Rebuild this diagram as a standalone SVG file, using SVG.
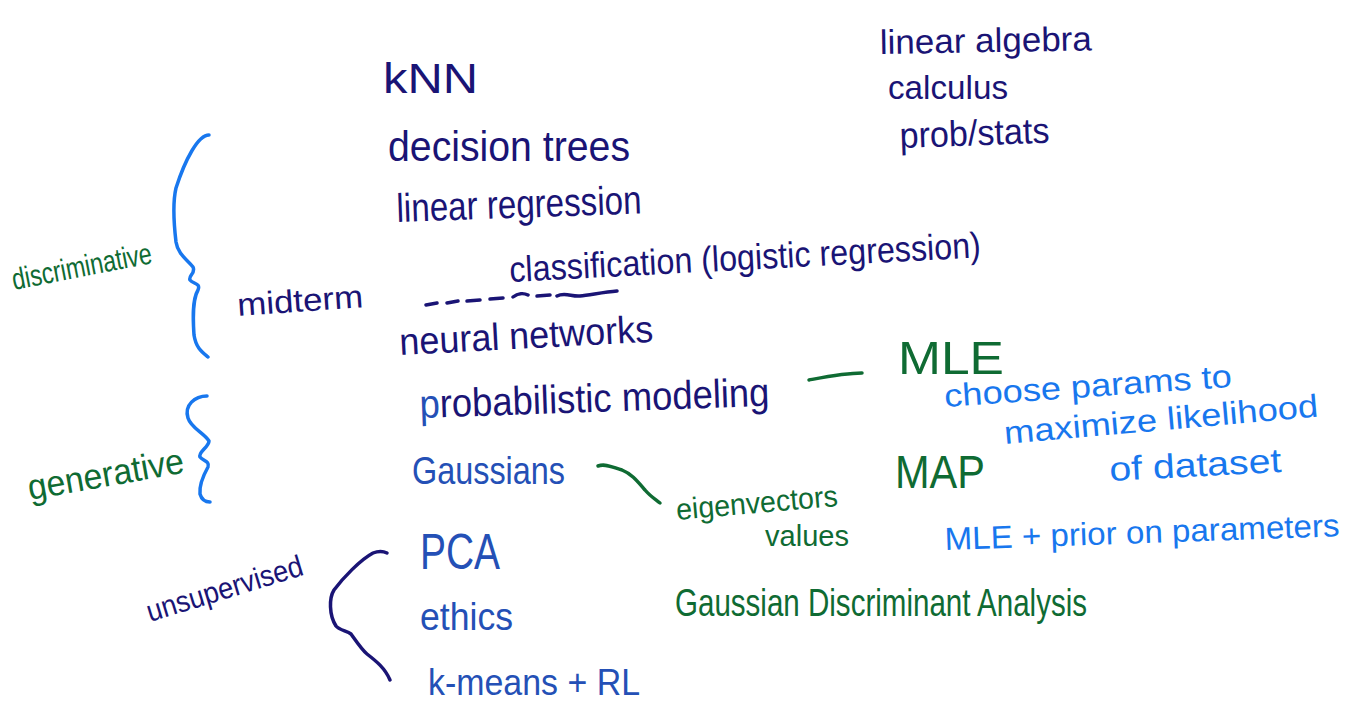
<svg xmlns="http://www.w3.org/2000/svg" width="1356" height="705" viewBox="0 0 1356 705">
<style>
text{font-family:"Liberation Sans","DejaVu Sans",sans-serif;}
.navy{fill:#1a1475;}
.mid{fill:#2450b6;}
.bright{fill:#1877ee;}
.green{fill:#0f6b33;}
.stroke{fill:none;stroke-linecap:round;stroke-linejoin:round;}
.sb{stroke:#1877ee;stroke-width:3.5;}
.sn{stroke:#1a1475;stroke-width:3.5;}
.sg{stroke:#0f6b33;stroke-width:3.5;}
</style>
<rect width="1356" height="705" fill="#ffffff"/>

<g id="connectors">
  <path id="brace-discriminative" class="stroke sb" d="M209,135 C198,135 185,160 176,188 C172,205 174,225 176,242 C178,255 188,260 193,267 C196,273 188,276 190,280 C193,284 201,283 198,290 C192,300 193,320 194,335 C196,348 202,352 208,357"/>
  <path id="brace-generative" class="stroke sb" d="M207,396 C195,396 184,405 188,418 C191,428 204,433 209,441 C209,447 198,452 200,457 C203,461 210,461 208,467 C203,476 199,485 200,494 C202,501 206,502 210,502"/>
  <path id="brace-unsupervised" class="stroke sn" d="M387,553 C383,551 378,551 373,553 C360,560 343,578 334,590 C329,598 329,615 336,626 C339,630 347,631 351,634 C356,641 362,650 367,654 C376,661 385,668 390,680"/>
  <path id="dashes" class="stroke sn" stroke-width="3" d="M426,305 L437,303 M447,303 L458,301 M467,301 L480,300 M490,299 L503,298 M513,297 C518,293 524,293 528,295 M537,296 L550,295 M557,296 C565,292 572,297 580,296 C590,295 604,292 617,291"/>
  <path id="link-mle" class="stroke sg" d="M809,380 C825,377 845,373 862,373"/>
  <path id="link-eigen" class="stroke sg" d="M598,466 C606,463 614,468 622,470 C632,474 638,482 645,490 C650,496 655,499 660,503"/>
</g>

<g id="knn"><text class="navy" x="383" y="93" font-size="42" textLength="95" lengthAdjust="spacingAndGlyphs">kNN</text></g>
<g id="decision-trees"><text class="navy" x="388" y="161" font-size="42" textLength="242" lengthAdjust="spacingAndGlyphs">decision trees</text></g>
<g id="linear-regression"><text class="navy" x="397" y="222" font-size="40" textLength="245" lengthAdjust="spacingAndGlyphs" transform="rotate(-2 397 222)">linear regression</text></g>
<g id="classification"><text class="navy" x="510" y="282" font-size="36" textLength="472" lengthAdjust="spacingAndGlyphs" transform="rotate(-3 510 282)">classification (logistic regression)</text></g>
<g id="midterm"><text class="navy" x="238" y="316" font-size="32" textLength="126" lengthAdjust="spacingAndGlyphs" transform="rotate(-4 238 316)">midterm</text></g>
<g id="discriminative"><text class="green" x="14" y="290" font-size="30" textLength="142" lengthAdjust="spacingAndGlyphs" transform="rotate(-11 14 290)">discriminative</text></g>
<g id="neural-networks"><text class="navy" x="400" y="355" font-size="38" textLength="254" lengthAdjust="spacingAndGlyphs" transform="rotate(-3 400 355)">neural networks</text></g>
<g id="probabilistic-modeling"><text class="navy" x="420" y="418" font-size="40" textLength="350" lengthAdjust="spacingAndGlyphs" transform="rotate(-2 420 418)"><tspan class="mid">p</tspan>robabilistic modeling</text></g>
<g id="mle"><text class="green" x="898" y="374" font-size="46" textLength="106" lengthAdjust="spacingAndGlyphs">MLE</text></g>
<g id="mle-note">
  <text class="bright" x="945" y="407" font-size="32" textLength="288" lengthAdjust="spacingAndGlyphs" transform="rotate(-4 945 407)">choose params to</text>
  <text class="bright" x="1005" y="444" font-size="32" textLength="315" lengthAdjust="spacingAndGlyphs" transform="rotate(-5 1005 444)">maximize likelihood</text>
  <text class="bright" x="1110" y="481" font-size="34" textLength="172" lengthAdjust="spacingAndGlyphs" transform="rotate(-3 1110 481)">of dataset</text>
</g>
<g id="map"><text class="green" x="895" y="488" font-size="46" textLength="90" lengthAdjust="spacingAndGlyphs">MAP</text></g>
<g id="map-note"><text class="bright" x="945" y="550" font-size="32" textLength="395" lengthAdjust="spacingAndGlyphs" transform="rotate(-2 945 550)">MLE + prior on parameters</text></g>
<g id="generative"><text class="green" x="30" y="500" font-size="36" textLength="158" lengthAdjust="spacingAndGlyphs" transform="rotate(-10 30 500)">generative</text></g>
<g id="gaussians"><text class="mid" x="412" y="484" font-size="38" textLength="153" lengthAdjust="spacingAndGlyphs">Gaussians</text></g>
<g id="eigen">
  <text class="green" x="677" y="520" font-size="30" textLength="162" lengthAdjust="spacingAndGlyphs" transform="rotate(-5 677 520)">eigenvectors</text>
  <text class="green" x="765" y="546" font-size="30" textLength="84" lengthAdjust="spacingAndGlyphs">values</text>
</g>
<g id="pca"><text class="mid" x="420" y="569" font-size="50" textLength="80" lengthAdjust="spacingAndGlyphs">PCA</text></g>
<g id="unsupervised"><text class="navy" x="150" y="622" font-size="30" textLength="162" lengthAdjust="spacingAndGlyphs" transform="rotate(-17 150 622)">unsupervised</text></g>
<g id="ethics"><text class="mid" x="420" y="630" font-size="38" textLength="93" lengthAdjust="spacingAndGlyphs">ethics</text></g>
<g id="kmeans"><text class="mid" x="428" y="695" font-size="36" textLength="212" lengthAdjust="spacingAndGlyphs">k-means + RL</text></g>
<g id="gda"><text class="green" x="675" y="616" font-size="38" textLength="412" lengthAdjust="spacingAndGlyphs">Gaussian Discriminant Analysis</text></g>
<g id="prereqs">
  <text class="navy" x="880" y="54" font-size="34" textLength="212" lengthAdjust="spacingAndGlyphs" transform="rotate(-1 880 54)">linear algebra</text>
  <text class="navy" x="888" y="99" font-size="34" textLength="120" lengthAdjust="spacingAndGlyphs">calculus</text>
  <text class="navy" x="900" y="148" font-size="36" textLength="150" lengthAdjust="spacingAndGlyphs" transform="rotate(-2 900 148)">prob/stats</text>
</g>
</svg>
